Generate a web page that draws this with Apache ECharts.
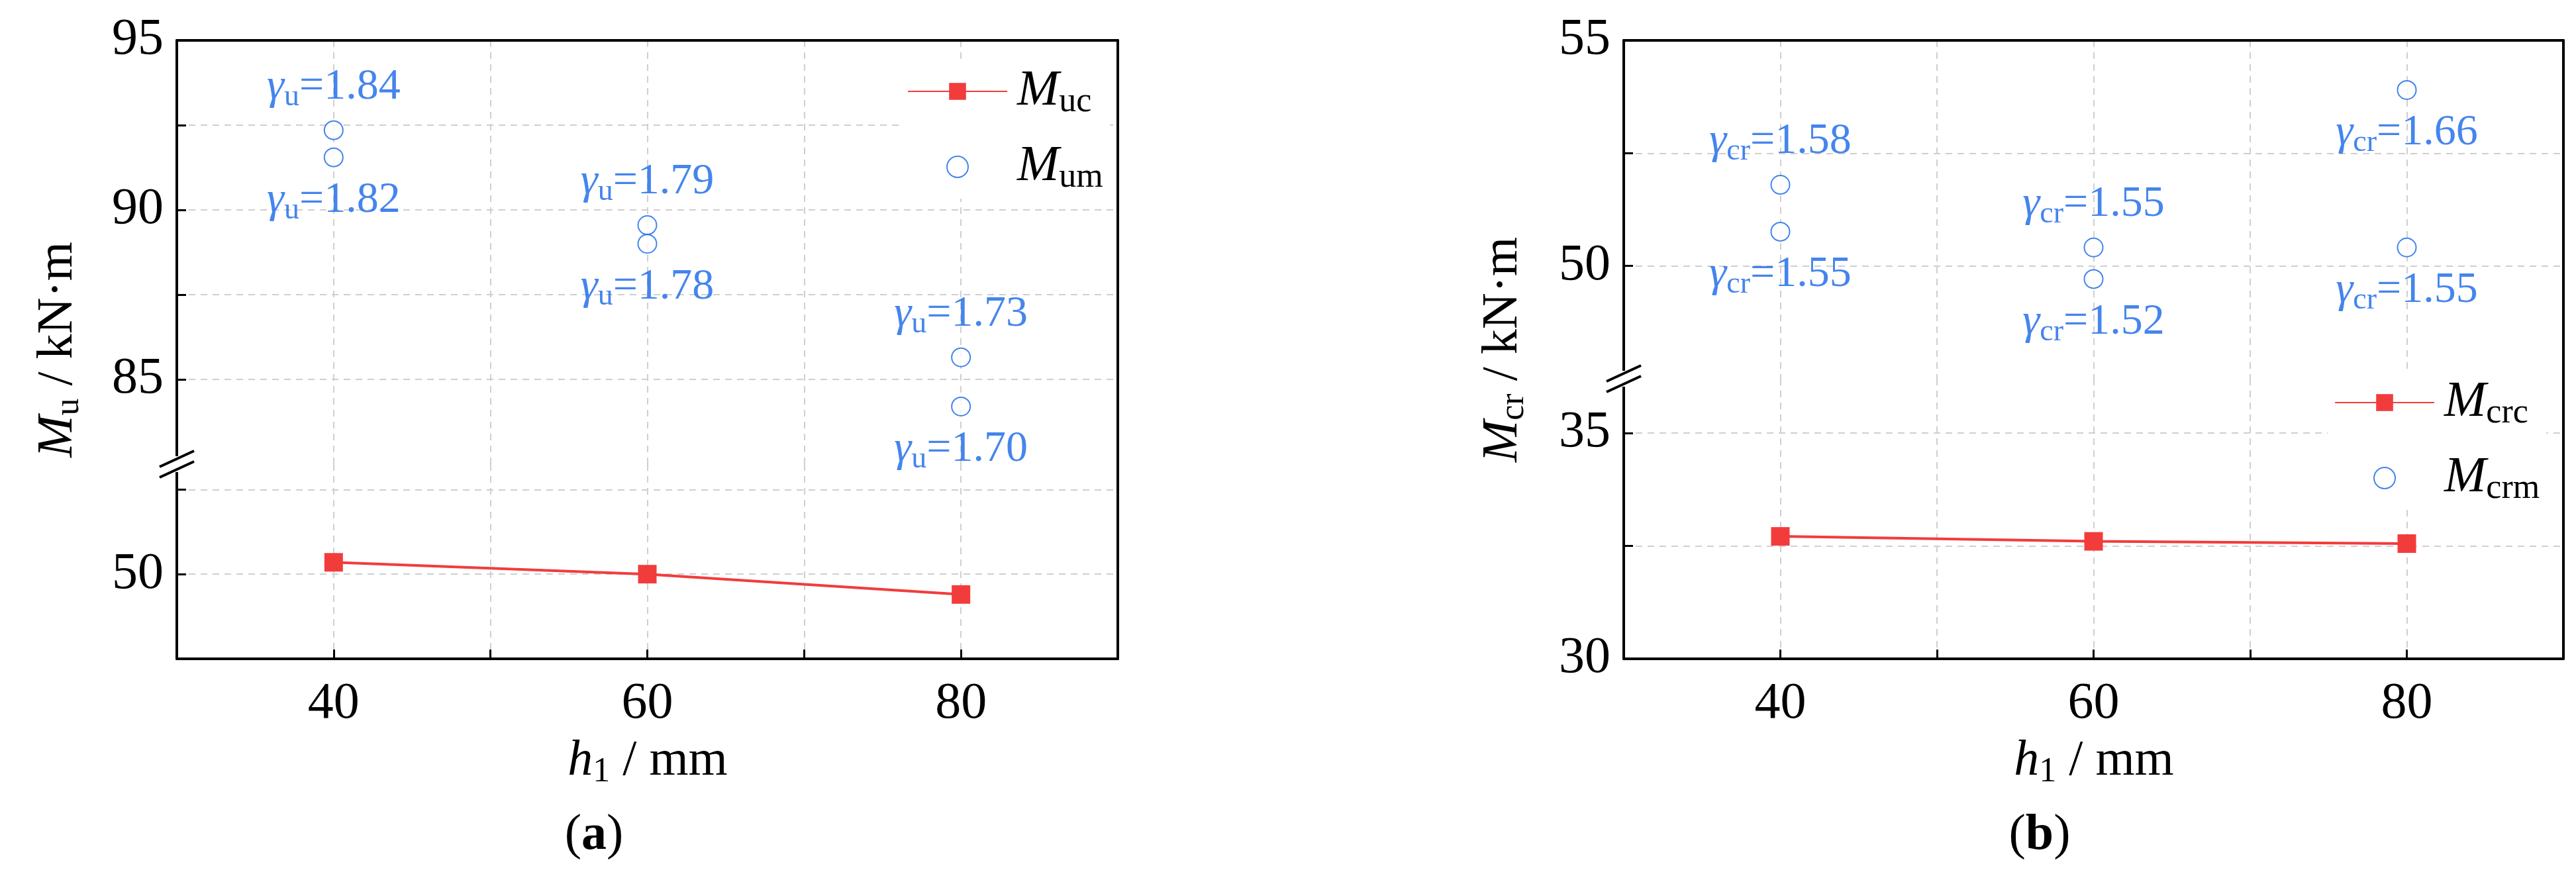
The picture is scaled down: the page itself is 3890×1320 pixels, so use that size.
<!DOCTYPE html>
<html>
<head>
<meta charset="utf-8">
<script src="https://cdn.jsdelivr.net/npm/echarts@6/dist/echarts.min.js"></script>
<style>html,body{margin:0;background:#fff}#c{width:3890px;height:1320px}</style>
</head>
<body>
<div id="c"></div>
<script>
const xVals = [40, 60, 80];
// panel (a)
const mucA = [50.35, 50.0, 49.4];
const mumA = [[40, 92.35], [40, 91.55], [60, 89.55], [60, 89.0], [80, 85.65], [80, 84.2]];
const gammaA = ['1.84', '1.82', '1.79', '1.78', '1.73', '1.70'];
const posA = ['top', 'bottom', 'top', 'bottom', 'top', 'bottom'];
// panel (b)
const mcrcB = [32.71, 32.6, 32.55];
const mcrmB = [[40, 51.8], [40, 50.76], [60, 50.41], [60, 49.71], [80, 53.9], [80, 50.41]];
const gammaB = ['1.58', '1.55', '1.55', '1.52', '1.66', '1.55'];
const posB = ['top', 'bottom', 'top', 'bottom', 'bottom', 'bottom'];

const FONT = '"Liberation Serif", "DejaVu Serif", serif';
const BLUE = '#1766e8';
const RED = '#f23c3c';
const GRID = '#cfcfcf';

const rich = {
  g: { fontFamily: FONT, fontStyle: 'italic', fontSize: 66, color: BLUE, lineHeight: 76 },
  s: { fontFamily: FONT, fontSize: 46, color: BLUE, verticalAlign: 'bottom', lineHeight: 60, padding: [30, 0, 0, 0] },
  n: { fontFamily: FONT, fontSize: 66, color: BLUE, lineHeight: 76 },
  i: { fontFamily: FONT, fontStyle: 'italic', fontSize: 76, color: '#000', lineHeight: 84 },
  t: { fontFamily: FONT, fontSize: 52, color: '#000', verticalAlign: 'bottom', lineHeight: 66, padding: [32, 0, 0, 0] },
  n2: { fontFamily: FONT, fontSize: 76, color: '#000', lineHeight: 84 },
  b: { fontFamily: FONT, fontSize: 76, fontWeight: 'bold', color: '#000', lineHeight: 84 }
};

const grids = [
  { left: 267, top: 61, width: 1421, height: 640 },
  { left: 267, top: 701, width: 1421, height: 294 },
  { left: 2452, top: 61, width: 1419, height: 511 },
  { left: 2452, top: 572, width: 1419, height: 423 }
];

const axisLine = { show: true, lineStyle: { color: '#000', width: 4 } };
const split = { show: true, lineStyle: { color: GRID, type: [10, 8], width: 2 } };

function xAx(grid, bottom) {
  return {
    type: 'value', gridIndex: grid, min: 30, max: 90, interval: 10,
    position: bottom ? 'bottom' : 'top',
    axisLine: axisLine,
    axisTick: { show: bottom, inside: true, length: 14, lineStyle: { color: '#000', width: 3 } },
    axisLabel: {
      show: bottom, fontFamily: FONT, fontSize: 78, color: '#000', margin: 30,
      formatter: v => (v === 40 || v === 60 || v === 80) ? String(v) : ''
    },
    splitLine: Object.assign({ showMinLine: false, showMaxLine: false }, split)
  };
}
function yAx(grid, min, max, right, upper) {
  return {
    type: 'value', gridIndex: grid, min: min, max: max, interval: 2.5,
    position: right ? 'right' : 'left',
    axisLine: axisLine,
    axisTick: { show: !right, inside: true, length: 14, lineStyle: { color: '#000', width: 3 } },
    axisLabel: {
      show: !right, fontFamily: FONT, fontSize: 78, color: '#000', margin: 20,
      formatter: v => (Math.abs(v % 5) < 1e-6) ? String(v) : ''
    },
    splitLine: right ? { show: false } : Object.assign({ showMinLine: !upper, showMaxLine: false }, split)
  };
}

function gammaData(pts, g, pos, sub) {
  return pts.map((p, k) => ({
    value: p,
    label: {
      show: true, position: pos[k], distance: 12,
      formatter: '{g|γ}{s|' + sub + '}{n|=' + g[k] + '}', rich: rich
    }
  }));
}

const names = { Muc: ['M', 'uc'], Mum: ['M', 'um'], Mcrc: ['M', 'crc'], Mcrm: ['M', 'crm'] };
function legend(data, left, top) {
  return {
    data: data, left: left, top: top, orient: 'vertical', itemGap: 30,
    itemWidth: 150, itemHeight: 32, backgroundColor: '#fff', padding: [6, 10, 6, 10],
    formatter: n => '{i|' + names[n][0] + '}{t|' + names[n][1] + '}',
    textStyle: { rich: rich, padding: [0, 0, 0, 10] }
  };
}

function breakMark(x, y) {
  return [
    { type: 'rect', shape: { x: x - 14, y: y - 12, width: 28, height: 24 }, style: { fill: '#fff' }, z: 100 },
    { type: 'line', shape: { x1: x - 26, y1: y + 4, x2: x + 26, y2: y - 20 }, style: { stroke: '#000', lineWidth: 4 }, z: 101 },
    { type: 'line', shape: { x1: x - 26, y1: y + 20, x2: x + 26, y2: y - 4 }, style: { stroke: '#000', lineWidth: 4 }, z: 101 }
  ];
}
function txt(x, y, text, rot) {
  return {
    type: 'text', x: x, y: y, rotation: rot || 0, z: 50,
    style: { text: text, rich: rich, font: '76px ' + FONT, fill: '#000', align: 'center', verticalAlign: 'middle' }
  };
}

const chart = echarts.init(document.getElementById('c'));
chart.setOption({
  backgroundColor: '#fff',
  animation: false,
  grid: grids,
  xAxis: [xAx(0, false), xAx(1, true), xAx(2, false), xAx(3, true)],
  yAxis: [
    yAx(0, 82.5, 95, false, true), yAx(0, 82.5, 95, true, true),
    yAx(1, 47.5, 53.25, false, false), yAx(1, 47.5, 53.25, true, false),
    yAx(2, 47.5, 55, false, true), yAx(2, 47.5, 55, true, true),
    yAx(3, 30, 36.2, false, false), yAx(3, 30, 36.2, true, false)
  ],
  legend: [legend(['Muc', 'Mum'], 1360, 90), legend(['Mcrc', 'Mcrm'], 3515, 560)],
  series: [
    {
      name: 'Muc', type: 'line', xAxisIndex: 1, yAxisIndex: 2,
      data: xVals.map((x, k) => [x, mucA[k]]),
      symbol: 'rect', symbolSize: 28, itemStyle: { color: RED }, lineStyle: { color: RED, width: 4 }
    },
    {
      name: 'Mum', type: 'scatter', xAxisIndex: 0, yAxisIndex: 0,
      data: gammaData(mumA, gammaA, posA, 'u'),
      symbol: 'emptyCircle', symbolSize: 28, itemStyle: { color: BLUE, borderColor: BLUE, borderWidth: 4 }
    },
    {
      name: 'Mcrc', type: 'line', xAxisIndex: 3, yAxisIndex: 6,
      data: xVals.map((x, k) => [x, mcrcB[k]]),
      symbol: 'rect', symbolSize: 28, itemStyle: { color: RED }, lineStyle: { color: RED, width: 4 }
    },
    {
      name: 'Mcrm', type: 'scatter', xAxisIndex: 2, yAxisIndex: 4,
      data: gammaData(mcrmB, gammaB, posB, 'cr'),
      symbol: 'emptyCircle', symbolSize: 28, itemStyle: { color: BLUE, borderColor: BLUE, borderWidth: 4 }
    }
  ],
  graphic: [].concat(
    breakMark(267, 701), breakMark(2452, 572),
    [
      txt(88, 528, '{i|M}{t|u}{n2| / kN·m}', Math.PI / 2),
      txt(2270, 528, '{i|M}{t|cr}{n2| / kN·m}', Math.PI / 2),
      txt(978, 1150, '{i|h}{t|1}{n2| / mm}'),
      txt(3162, 1150, '{i|h}{t|1}{n2| / mm}'),
      txt(897, 1262, '{n2|(}{b|a}{n2|)}'),
      txt(3080, 1262, '{n2|(}{b|b}{n2|)}')
    ]
  )
});
</script>
</body>
</html>
